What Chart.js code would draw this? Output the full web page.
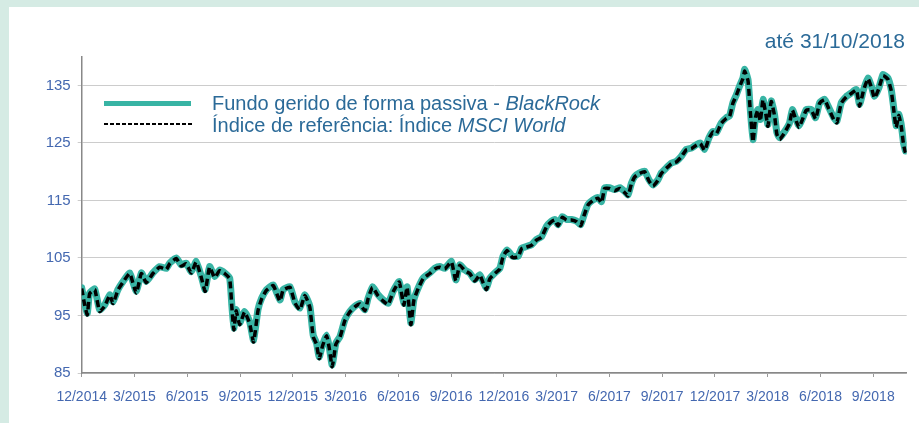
<!DOCTYPE html>
<html>
<head>
<meta charset="utf-8">
<script src="https://cdn.jsdelivr.net/npm/chart.js@4"></script>
<style>
  html, body { margin: 0; padding: 0; }
  body { width: 919px; height: 423px; background: #d5ebe4; position: relative; overflow: hidden;
         font-family: "Liberation Sans", Arial, sans-serif; }
  #panel { position: absolute; left: 9px; top: 7px; width: 910px; height: 416px; background: #fff; }
  #chart { position: absolute; left: 0; top: 0; }
  .txt { position: absolute; color: #2b6a98; white-space: nowrap; }
  #title { right: 14px; top: 29px; font-size: 21px; line-height: 24px; }
  .leg { left: 212px; font-size: 20px; line-height: 22px; }
  #swFund { position: absolute; left: 104px; top: 101px; width: 87px; height: 5px; background: #38b4a4; }
  #swIdx { position: absolute; left: 104px; top: 123px; width: 88px; height: 2px;
           background: repeating-linear-gradient(to right, #000 0 4px, transparent 4px 6px); }
</style>
</head>
<body>
<div id="panel"><canvas id="chart" width="910" height="416"></canvas></div>
<div class="txt" id="title">até 31/10/2018</div>
<div id="swFund"></div>
<div id="swIdx"></div>
<div class="txt leg" style="top:92px">Fundo gerido de forma passiva - <i>BlackRock</i></div>
<div class="txt leg" style="top:114px">Índice de referência: Índice <i>MSCI World</i></div>
<script>
// meses desde 12/2014
const months = [0.00,0.17,0.32,0.45,0.74,1.02,1.30,1.60,1.78,2.06,2.35,2.73,3.10,3.39,3.67,4.05,4.43,4.81,5.00,5.38,5.66,5.94,6.23,6.51,6.80,7.02,7.27,7.56,7.84,8.13,8.41,8.54,8.65,8.78,8.98,9.26,9.55,9.77,10.02,10.23,10.51,10.89,11.27,11.45,11.84,12.12,12.40,12.69,12.97,13.16,13.35,13.50,13.69,13.92,14.07,14.24,14.45,14.68,14.96,15.24,15.53,15.81,16.10,16.28,16.53,16.85,17.14,17.42,17.70,18.05,18.31,18.50,18.71,18.88,19.13,19.41,19.79,20.07,20.36,20.64,21.02,21.27,21.49,21.78,22.06,22.35,22.63,22.82,23.01,23.20,23.48,23.77,23.95,24.18,24.49,24.81,25.00,25.28,25.57,25.85,26.14,26.42,26.70,26.89,27.08,27.33,27.56,27.84,28.13,28.37,28.56,28.78,29.07,29.35,29.55,29.73,30.00,30.30,30.60,30.86,31.06,31.25,31.44,31.72,32.00,32.25,32.48,32.76,32.95,33.24,33.52,33.80,34.09,34.37,34.66,34.94,35.17,35.41,35.66,35.89,36.08,36.36,36.65,36.83,37.02,37.22,37.40,37.59,37.69,37.88,38.01,38.16,38.31,38.44,38.58,38.73,38.92,39.01,39.20,39.39,39.52,39.68,39.96,40.24,40.40,40.58,40.77,41.00,41.19,41.48,41.72,41.95,42.23,42.48,42.75,42.93,43.18,43.47,43.75,44.04,44.22,44.45,44.70,44.89,45.07,45.32,45.55,45.83,46.02,46.15,46.30,46.45,46.59,46.72,46.83];

const fundValues = [99.8,97.1,95.4,98.9,99.6,96.0,96.8,98.6,97.4,99.5,100.9,102.4,99.2,102.4,100.9,102.4,103.5,103.2,104.1,105.0,103.8,104.1,102.6,104.4,101.8,99.5,103.5,101.8,102.9,102.4,101.5,96.6,92.8,96.0,93.7,95.7,93.9,90.7,96.0,98.0,99.5,100.3,97.7,99.5,100.0,97.4,96.3,98.6,96.6,91.6,90.2,87.8,89.9,91.6,89.6,86.4,90.2,91.3,94.2,95.7,96.6,97.1,96.0,98.0,100.0,98.6,97.7,97.1,99.2,100.9,97.1,100.0,93.7,97.7,99.8,101.5,102.4,103.2,103.5,103.2,104.4,101.2,103.8,102.9,102.4,101.2,102.1,100.9,99.8,101.5,102.4,103.2,105.3,106.4,105.3,105.3,106.7,107.0,107.3,108.2,108.7,110.5,111.4,111.7,110.8,112.2,111.7,111.7,111.4,110.8,112.5,114.3,115.1,115.5,114.8,117.2,117.2,116.9,117.2,116.6,116.0,118.0,119.2,119.8,120.1,118.6,117.7,118.6,119.8,120.7,121.5,121.8,122.7,123.9,124.1,124.7,125.0,123.9,125.9,127.0,126.8,128.5,129.4,129.7,132.0,133.4,134.9,136.3,137.8,136.0,130.8,125.6,129.7,130.8,129.1,132.6,129.7,128.2,132.3,129.9,126.8,125.9,127.0,128.5,130.8,129.4,128.0,129.4,130.8,130.8,129.4,132.0,132.6,131.1,129.4,128.8,132.0,133.1,133.7,134.3,131.7,134.3,136.3,134.9,133.1,134.6,136.9,136.3,134.3,131.4,128.0,130.0,128.2,125.0,123.6];

const indexValues = [99.7,96.8,95.1,98.8,99.5,95.7,96.6,98.5,97.1,99.4,100.8,102.3,98.9,102.3,100.7,102.3,103.4,103.0,104.0,104.9,103.6,104.0,102.4,104.3,101.6,99.2,103.4,101.6,102.8,102.3,101.4,96.3,92.5,95.8,93.4,95.6,93.6,90.4,95.8,97.9,99.4,100.2,97.5,99.4,99.9,97.2,96.0,98.5,96.4,91.3,90.0,87.5,89.7,91.5,89.4,86.1,90.0,91.2,94.1,95.6,96.5,97.0,95.8,97.9,99.9,98.4,97.5,96.9,99.1,100.8,96.8,99.9,93.4,97.6,99.7,101.4,102.3,103.1,103.4,103.1,104.3,101.0,103.7,102.8,102.3,101.0,102.0,100.7,99.5,101.4,102.3,103.1,105.2,106.3,105.1,105.2,106.6,106.9,107.2,108.1,108.6,110.4,111.3,111.6,110.6,112.1,111.6,111.6,111.3,110.6,112.4,114.2,115.0,115.4,114.6,117.1,117.1,116.7,117.1,116.4,115.8,117.9,119.1,119.7,120.0,118.4,117.5,118.5,119.7,120.6,121.4,121.7,122.6,123.8,124.0,124.6,124.9,123.7,125.8,126.9,126.6,128.4,129.3,129.6,131.9,133.3,134.8,136.2,137.5,135.8,130.5,125.2,129.5,130.7,128.8,132.5,129.5,127.9,132.2,129.7,126.5,125.6,126.8,128.4,130.7,129.2,127.7,129.3,130.7,130.7,129.2,131.9,132.5,130.9,129.1,128.5,131.9,133.0,133.6,134.2,131.4,134.2,136.2,134.7,132.8,134.5,136.7,136.1,134.1,131.1,127.7,129.8,127.9,124.7,123.3];

const tickLabels = ['12/2014','3/2015','6/2015','9/2015','12/2015','3/2016','6/2016','9/2016','12/2016','3/2017','6/2017','9/2017','12/2017','3/2018','6/2018','9/2018'];
const yTicks = [85, 95, 105, 115, 125, 135];

const fundPoints = months.map((m, i) => ({ x: m, y: fundValues[i] }));
const indexPoints = months.map((m, i) => ({ x: m, y: indexValues[i] }));

const tickColor = '#4468b0';

new Chart(document.getElementById('chart').getContext('2d'), {
    type: 'line',
    data: {
        datasets: [{
            label: 'Índice de referência: Índice MSCI World',
            data: indexPoints,
            borderColor: '#000000',
            borderWidth: 3.5,
            borderDash: [7, 4],
            pointRadius: 0,
            tension: 0.15,
            order: 0
        }, {
            label: 'Fundo gerido de forma passiva - BlackRock',
            data: fundPoints,
            borderColor: '#38b4a4',
            borderWidth: 7,
            borderJoinStyle: 'round',
            borderCapStyle: 'round',
            pointRadius: 0,
            tension: 0.15,
            order: 1
        }]
    },
    options: {
        responsive: false,
        animation: false,
        layout: { padding: { left: 0, top: 49.7, right: 12.3, bottom: 10 } },
        plugins: { legend: { display: false }, tooltip: { enabled: false } },
        scales: {
            x: {
                type: 'linear',
                min: 0,
                max: 46.9,
                afterBuildTicks: (scale) => { scale.ticks = tickLabels.map((t, i) => ({ value: i * 3 })); },
                afterFit: (scale) => { scale.height = 40; },
                ticks: {
                    autoSkip: false,
                    maxRotation: 0,
                    padding: 12,
                    color: tickColor,
                    font: { family: '"Liberation Sans Narrow", "Liberation Sans"', size: 14 },
                    callback: (v) => tickLabels[Math.round(v / 3)]
                },
                grid: { drawOnChartArea: false, tickLength: 4, color: '#999999' },
                border: { color: '#888888', width: 1.5 }
            },
            y: {
                min: 85,
                max: 140,
                afterBuildTicks: (scale) => { scale.ticks = yTicks.map(v => ({ value: v })); },
                afterFit: (scale) => { scale.width = 72.7; },
                ticks: {
                    padding: 7,
                    color: tickColor,
                    font: { family: 'Liberation Sans', size: 15 }
                },
                grid: { color: '#cccccc', tickLength: 4 },
                border: { color: '#888888', width: 1.5 }
            }
        }
    }
});
</script>
</body>
</html>
